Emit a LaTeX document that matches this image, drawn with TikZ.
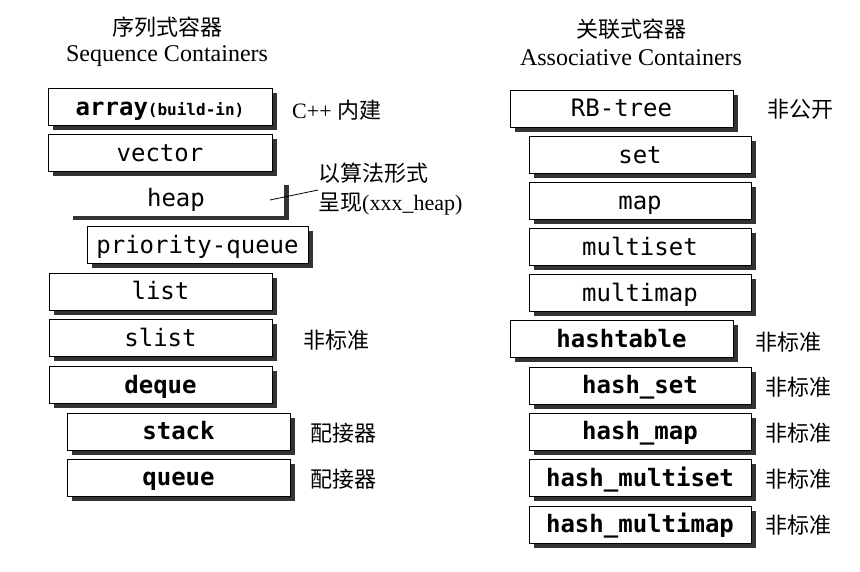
\documentclass[tikz,border=0pt]{standalone}
\usepackage{fontspec}
\setmainfont{Liberation Serif}
\newfontfamily\cjk{Noto Sans CJK SC}
\newfontfamily\mono{DejaVu Sans Mono}
\usetikzlibrary{shadows}
\tikzset{
  box/.style={draw=black, line width=1pt, fill=white, inner sep=0pt,
    minimum height=37pt, text height=20pt, text depth=4pt,
    font=\mono\fontsize{24}{28}\selectfont,
    drop shadow={shadow xshift=4.5pt, shadow yshift=-4.5pt, fill=black!80, opacity=1}},
  boldbox/.style={box, font=\mono\bfseries\fontsize{24}{28}\selectfont},
  ghostbox/.style={box, draw=none},
  note/.style={anchor=west, inner sep=0pt, font=\cjk\fontsize{22}{26}\selectfont},
  head/.style={inner sep=0pt, font=\fontsize{24}{28}\selectfont},
  cjkhead/.style={inner sep=0pt, font=\cjk\fontsize{22}{26}\selectfont},
  leader/.style={line width=0.8pt}
}
\begin{document}
\begin{tikzpicture}[x=1pt,y=-1pt]
\useasboundingbox (0,0) rectangle (860,571);
% headings
\node[cjkhead] (h1c) at (167,27) {序列式容器};
\node[head] (h1e) at (167,56) {Sequence Containers};
\node[cjkhead] (h2c) at (631,29) {关联式容器};
\node[head] (h2e) at (631,58) {Associative Containers};
% left column
\node[boldbox, minimum width=224pt] (array) at (160,107) {array{\fontsize{16}{18}\selectfont(build-in)}};
\node[box, minimum width=224pt] (vector) at (160,153) {vector};
\node[ghostbox, minimum width=216pt, minimum height=35pt] (heap) at (176,198) {heap};
\node[box, minimum width=221pt] (pq) at (197.5,245) {priority-queue};
\node[box, minimum width=223pt] (list) at (160.5,291.5) {list};
\node[box, minimum width=223pt] (slist) at (160.5,338) {slist};
\node[boldbox, minimum width=223pt] (deque) at (160.5,385) {deque};
\node[boldbox, minimum width=223pt] (stack) at (178.5,431.5) {stack};
\node[boldbox, minimum width=223pt] (queue) at (178.5,477.5) {queue};
% left notes
\node[note, font=\fontsize{22}{26}\selectfont] (n1) at (292,110) {C++ {\cjk 内建}};
\node[note] (n2) at (318,173) {以算法形式};
\node[note] (n3) at (318,204) {呈现{\rmfamily(xxx\_heap)}};
\node[note] (n4) at (303,340) {非标准};
\node[note] (n5) at (310,433) {配接器};
\node[note] (n6) at (310,479) {配接器};
\coordinate (hl) at (270,200);
\draw[leader] (hl) -- (n3.west |- 0,190);
% right column
\node[box, minimum width=223pt] (rb) at (621.5,108.5) {RB-tree};
\node[box, minimum width=222pt] (set) at (640,155) {set};
\node[box, minimum width=222pt] (map) at (640,201) {map};
\node[box, minimum width=222pt] (mset) at (640,247) {multiset};
\node[box, minimum width=222pt] (mmap) at (640,293) {multimap};
\node[boldbox, minimum width=223pt] (ht) at (621.5,339) {hashtable};
\node[boldbox, minimum width=222pt] (hs) at (640,385.5) {hash\_set};
\node[boldbox, minimum width=222pt] (hm) at (640,431.5) {hash\_map};
\node[boldbox, minimum width=222pt] (hms) at (640,478) {hash\_multiset};
\node[boldbox, minimum width=222pt] (hmm) at (640,524.5) {hash\_multimap};
% right notes
\node[note] (r1) at (767,109) {非公开};
\node[note] (r2) at (755,342) {非标准};
\node[note] (r3) at (765,387) {非标准};
\node[note] (r4) at (765,433) {非标准};
\node[note] (r5) at (765,479) {非标准};
\node[note] (r6) at (765,525) {非标准};
\end{tikzpicture}
\end{document}
